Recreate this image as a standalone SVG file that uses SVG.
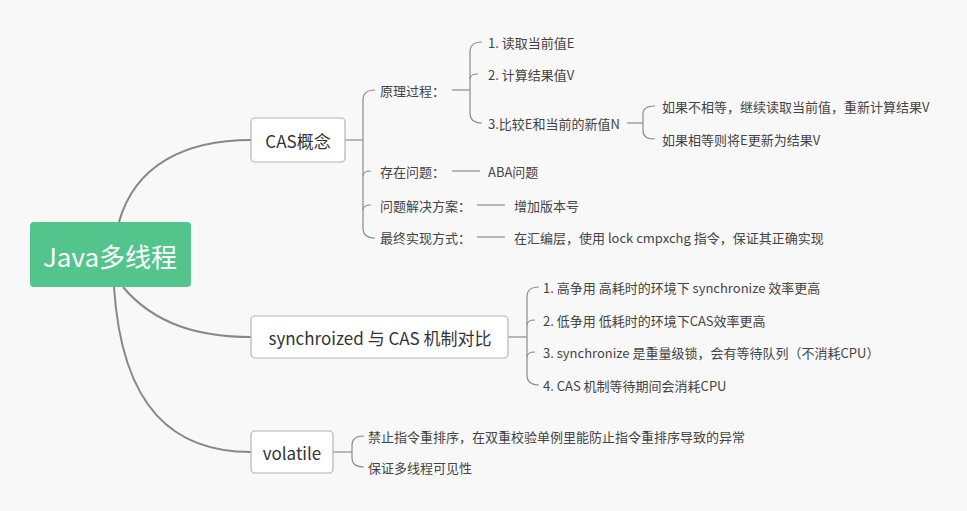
<svg xmlns="http://www.w3.org/2000/svg" width="967" height="511" viewBox="0 0 967 511">
<style>
.bg{fill:#f8f8f8}
.root{fill:#52c48c}
.rootT{font-family:"Noto Sans CJK SC","Noto Sans",sans-serif;font-size:26px;fill:#ffffff;text-anchor:middle;dominant-baseline:central}
.box{fill:#ffffff;stroke:#b4b4b4;stroke-width:1.2}
.boxT{font-family:"Noto Sans CJK SC","Noto Sans",sans-serif;font-size:17px;fill:#333333;text-anchor:middle;dominant-baseline:central}
.t{font-family:"Noto Sans CJK SC","Noto Sans",sans-serif;font-size:13px;fill:#444444;dominant-baseline:central}
.main{fill:none;stroke:#888888;stroke-width:2}
.sub{fill:none;stroke:#8c8c8c;stroke-width:1.2}
</style>
<rect class="bg" x="0" y="0" width="967" height="511"/>
<g id="connectors">
<path class="main" d="M119,222 C135,165 185,140 251,140"/>
<path class="main" d="M123,287 C155,325 200,337 251,337"/>
<path class="main" d="M114,287 C122,410 175,452 251,452"/>
<!-- CAS main brace -->
<path class="sub" d="M345,140 L363,140"/>
<path class="sub" d="M375,90 Q363,90 363,100 L363,228 Q363,238 375,238"/>
<path class="sub" d="M363,176 Q363,171 371,171"/>
<path class="sub" d="M363,210 Q363,205 371,205"/>
<!-- 原理过程 brace -->
<path class="sub" d="M452,90 L470,90"/>
<path class="sub" d="M482,42 Q470,42 470,52 L470,113 Q470,123 482,123"/>
<path class="sub" d="M470,79 Q470,74 478,74"/>
<!-- 3. brace -->
<path class="sub" d="M627,123 L643,123"/>
<path class="sub" d="M655,106 Q643,106 643,114 L643,131 Q643,139 655,139"/>
<!-- single lines -->
<path class="sub" d="M452,171 L480,171"/>
<path class="sub" d="M477,205 L505,205"/>
<path class="sub" d="M477,237 L505,237"/>
<!-- synchro brace -->
<path class="sub" d="M508,337 L527,337"/>
<path class="sub" d="M539,287 Q527,287 527,297 L527,375 Q527,385 539,385"/>
<path class="sub" d="M527,325 Q527,320 535,320"/>
<path class="sub" d="M527,357 Q527,352 535,352"/>
<!-- volatile brace -->
<path class="sub" d="M333,452 L352,452"/>
<path class="sub" d="M364,436 Q352,436 352,445 L352,458 Q352,467 364,467"/>
</g>
<g id="root">
<rect class="root" x="30" y="222" width="161" height="65" rx="4"/>
<text class="rootT" x="110" y="255">Java多线程</text>
</g>
<g id="cas">
<rect class="box" x="251" y="118" width="94" height="44" rx="4"/>
<text class="boxT" x="298" y="140">CAS概念</text>
</g>
<g id="cas-principle"><text class="t" x="380" y="90">原理过程：</text></g>
<g id="step1"><text class="t" x="488" y="42">1. 读取当前值E</text></g>
<g id="step2"><text class="t" x="488" y="74">2. 计算结果值V</text></g>
<g id="step3"><text class="t" x="488" y="123">3.比较E和当前的新值N</text></g>
<g id="step3a"><text class="t" x="662" y="106">如果不相等，继续读取当前值，重新计算结果V</text></g>
<g id="step3b"><text class="t" x="662" y="139">如果相等则将E更新为结果V</text></g>
<g id="cas-problem"><text class="t" x="380" y="171">存在问题：</text></g>
<g id="aba"><text class="t" x="488" y="171">ABA问题</text></g>
<g id="cas-solution"><text class="t" x="380" y="205">问题解决方案：</text></g>
<g id="version"><text class="t" x="514" y="205">增加版本号</text></g>
<g id="cas-impl"><text class="t" x="380" y="237">最终实现方式：</text></g>
<g id="impl"><text class="t" x="514" y="237">在汇编层，使用 lock cmpxchg 指令，保证其正确实现</text></g>
<g id="sync">
<rect class="box" x="251" y="316" width="257" height="42" rx="4"/>
<text class="boxT" x="380" y="337">synchroized 与 CAS 机制对比</text>
</g>
<g id="sync1"><text class="t" x="543" y="287">1. 高争用 高耗时的环境下 synchronize 效率更高</text></g>
<g id="sync2"><text class="t" x="543" y="320">2. 低争用 低耗时的环境下CAS效率更高</text></g>
<g id="sync3"><text class="t" x="543" y="352">3. synchronize 是重量级锁，会有等待队列（不消耗CPU）</text></g>
<g id="sync4"><text class="t" x="543" y="385">4. CAS 机制等待期间会消耗CPU</text></g>
<g id="volatile">
<rect class="box" x="251" y="431" width="82" height="42" rx="4"/>
<text class="boxT" x="292" y="452">volatile</text>
</g>
<g id="vol1"><text class="t" x="368" y="436">禁止指令重排序，在双重校验单例里能防止指令重排序导致的异常</text></g>
<g id="vol2"><text class="t" x="368" y="467">保证多线程可见性</text></g>
</svg>
